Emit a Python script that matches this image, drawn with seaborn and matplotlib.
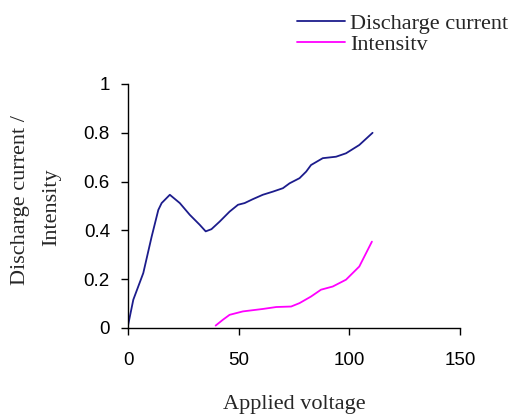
import matplotlib
matplotlib.use("Agg")
import matplotlib.pyplot as plt
import seaborn as sns
import pandas as pd

# Data
current_x = [0, 2.4, 6.9, 10.7, 13.7, 15.2, 18.9, 23.4, 27.9, 32.4, 35.1, 37.7, 41.4, 45.9,
             49.7, 52.7, 56.4, 60.9, 65.5, 70, 73, 77.5, 80.5, 82.7, 88, 94, 98.5, 104.5, 110.5]
current_y = [0.01, 0.116, 0.225, 0.375, 0.484, 0.512, 0.546, 0.512, 0.464, 0.423, 0.396, 0.405,
             0.436, 0.477, 0.505, 0.512, 0.528, 0.546, 0.559, 0.573, 0.593, 0.614, 0.641, 0.668,
             0.696, 0.702, 0.716, 0.75, 0.80]
intensity_x = [39.6, 42.9, 45.9, 51.9, 60.9, 67, 73.7, 77.5, 82.7, 87.2, 92.5, 98.5, 104.5, 110.2]
intensity_y = [0.01, 0.034, 0.054, 0.068, 0.078, 0.086, 0.088, 0.102, 0.129, 0.157, 0.17,
               0.198, 0.252, 0.354]
x_ticks = [0, 50, 100, 150]
y_ticks = [0, 0.2, 0.4, 0.6, 0.8, 1]
y_tick_labels = ["0", "0.2", "0.4", "0.6", "0.8", "1"]
series_names = ["Discharge current", "Intensitv"]

sns.set_style("ticks")
plt.rcParams['font.family'] = ['Liberation Sans', 'DejaVu Sans']

df_c = pd.DataFrame({"x": current_x, "y": current_y})
df_i = pd.DataFrame({"x": intensity_x, "y": intensity_y})

fig = plt.figure(figsize=(5.21, 4.17), dpi=100)
ax = fig.add_axes([128/521, 1-328/417, (460-128)/521, (328-84)/417])

sns.lineplot(data=df_c, x="x", y="y", ax=ax, color="#1c1c8c", lw=1.3, label=series_names[0],
             legend=False)
sns.lineplot(data=df_i, x="x", y="y", ax=ax, color="#ff00ff", lw=1.3, label=series_names[1],
             legend=False)

ax.set_xlim(0, 150)
ax.set_ylim(0, 1)
ax.set_xticks(x_ticks)
ax.set_xticklabels([str(v) for v in x_ticks])
ax.set_yticks(y_ticks)
ax.set_yticklabels(y_tick_labels)
ax.tick_params(axis='x', direction='out', length=5, width=1, pad=12, labelsize=13.5, colors='black')
ax.tick_params(axis='y', direction='out', length=5, width=1, pad=8, labelsize=13.5, colors='black')
for s in ['top', 'right']:
    ax.spines[s].set_visible(False)
for s in ['left', 'bottom']:
    ax.spines[s].set_color('black')
    ax.spines[s].set_linewidth(1.0)

ax.set_xlabel("")
ax.set_ylabel("")
serif = ['Liberation Serif', 'DejaVu Serif']
fs = 16
fig.text(294/521, 1-404/417, "Applied voltage", family=serif, fontsize=fs,
         ha='center', va='center')
fig.text(21/521, 1-200/417, "Discharge current /", family=serif, fontsize=fs,
         rotation=90, ha='center', va='center')
fig.text(52/521, 1-207/417, "Intensity", family=serif, fontsize=fs,
         rotation=90, ha='center', va='center')

handles, labels = ax.get_legend_handles_labels()
fig.legend(handles, labels, loc='upper left', bbox_to_anchor=(297/521, 1-13/417),
           frameon=False, prop={'family': 'Liberation Serif', 'size': fs},
           handlelength=2.15, handletextpad=0.25, labelspacing=0.05, borderpad=0,
           borderaxespad=0)

fig.savefig("out.png", dpi=100)
